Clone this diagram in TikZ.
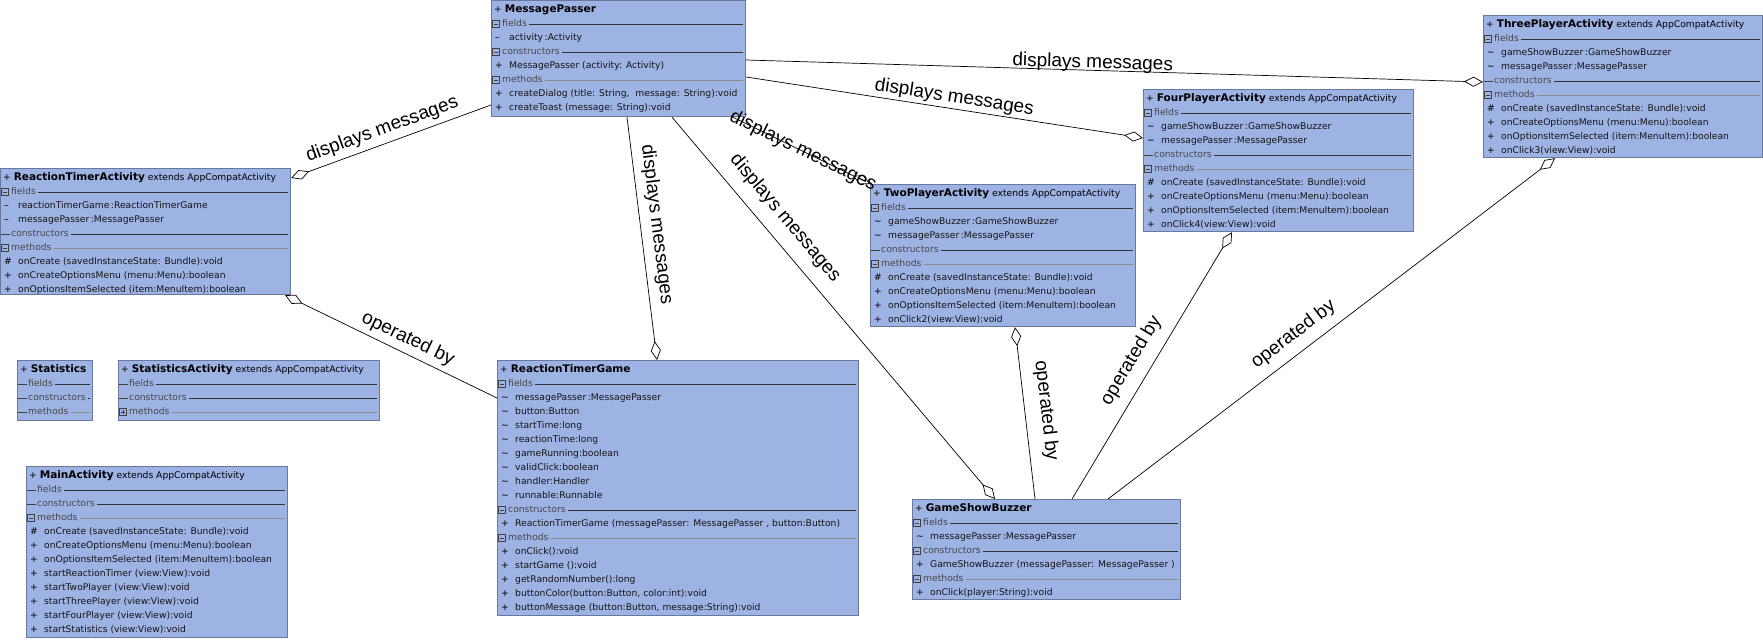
\documentclass[tikz,border=0pt]{standalone}
\usepackage{fontspec}
\setmainfont{DejaVu Sans}
\newfontfamily\etiq{Liberation Sans}
\usetikzlibrary{arrows.meta}
\definecolor{cajaazul}{RGB}{157,179,227}
\definecolor{bordeazul}{RGB}{105,120,158}

% filas de una clase: titulo, secciones y miembros
\newcommand\clase[3]{%
  \node[titulo] (#1-0) at ([shift={(3,10)}]#1.north west)
    {+ {\bfseries\fontsize{10.5}{12}\selectfont #2}#3};}
\newcommand\seccion[5][oscura]{%
  \node[#4] (#2-g#3) at ([shift={(1,10+14*#3)}]#2.north west) {};
  \node[secc] (#2-#3) at ([shift={(11,10+14*#3)}]#2.north west) {#5};
  \draw[#1] (#2-#3.east) -- (#2-#3.east -| #2.east);}
\newcommand\miembro[4]{%
  \node[fila] (#1-v#2) at ([shift={(4,10+14*#2)}]#1.north west) {#3};
  \node[texto] (#1-#2) at ([shift={(18,10+14*#2)}]#1.north west) {#4};}

\begin{document}
\begin{tikzpicture}[x=1pt, y=-1pt,
    caja/.style={draw=bordeazul, fill=cajaazul, line width=1.2pt,
      anchor=north west, inner sep=0pt},
    fila/.style={anchor=west, inner sep=0pt, text height=7pt, text depth=2pt,
      font=\fontsize{9.2}{11}\selectfont},
    titulo/.style={fila, text=black},
    secc/.style={fila, text=black!72},
    texto/.style={fila, text=black!92},
    menos/.style={draw=black!75, line width=.6pt, anchor=west, inner sep=0pt,
      minimum size=7pt, path picture={\draw[black!75, line width=.6pt]
        ([xshift=1.5pt]path picture bounding box.west) --
        ([xshift=-1.5pt]path picture bounding box.east);}},
    mas/.style={menos, path picture={\draw[black!75, line width=.6pt]
        ([xshift=1.5pt]path picture bounding box.west) --
        ([xshift=-1.5pt]path picture bounding box.east)
        ([yshift=-1.5pt]path picture bounding box.north) --
        ([yshift=1.5pt]path picture bounding box.south);}},
    guion/.style={anchor=west, inner sep=0pt, minimum width=9pt, minimum height=1pt,
      fill=black!75},
    oscura/.style={draw=black!80, line width=.8pt, shorten <=2pt, shorten >=3pt},
    clara/.style={draw=black!45, line width=.6pt, shorten <=2pt, shorten >=3pt},
    linea/.style={draw=black, line width=.7pt},
    agrega/.style={{Diamond[open,length=19pt,width=10pt]}-},
    etiqueta/.style={font=\etiq\fontsize{19}{22}\selectfont, inner sep=1pt, sloped}]
    \useasboundingbox (0,0) rectangle (1763,640);

    % MessagePasser
    \node[caja, minimum width=254, minimum height=116] (mp) at (491,0) {};
    \clase{mp}{MessagePasser}{}
    \seccion{mp}{1}{menos}{fields}
    \miembro{mp}{2}{–}{activity\,:Activity}
    \seccion{mp}{3}{menos}{constructors}
    \miembro{mp}{4}{+}{MessagePasser (activity: Activity)}
    \seccion[clara]{mp}{5}{menos}{methods}
    \miembro{mp}{6}{+}{createDialog (title: String,\ \ message: String):void}
    \miembro{mp}{7}{+}{createToast (message: String):void}

    % ReactionTimerActivity
    \node[caja, minimum width=290, minimum height=126] (rta) at (0,168) {};
    \clase{rta}{ReactionTimerActivity}{ extends AppCompatActivity}
    \seccion{rta}{1}{menos}{fields}
    \miembro{rta}{2}{–}{reactionTimerGame\,:ReactionTimerGame}
    \miembro{rta}{3}{–}{messagePasser\,:MessagePasser}
    \seccion{rta}{4}{guion}{constructors}
    \seccion[clara]{rta}{5}{menos}{methods}
    \miembro{rta}{6}{\#}{onCreate (savedInstanceState: Bundle):void}
    \miembro{rta}{7}{+}{onCreateOptionsMenu (menu:Menu):boolean}
    \miembro{rta}{8}{+}{onOptionsItemSelected (item:MenuItem):boolean}

    % Statistics, StatisticsActivity
    \node[caja, minimum width=75, minimum height=60] (st) at (17,360) {};
    \clase{st}{Statistics}{}
    \seccion{st}{1}{guion}{fields}
    \seccion{st}{2}{guion}{constructors}
    \seccion[clara]{st}{3}{guion}{methods}
    \node[caja, minimum width=261, minimum height=60] (sta) at (118,360) {};
    \clase{sta}{StatisticsActivity}{ extends AppCompatActivity}
    \seccion{sta}{1}{guion}{fields}
    \seccion{sta}{2}{guion}{constructors}
    \seccion[clara]{sta}{3}{mas}{methods}

    % MainActivity
    \node[caja, minimum width=261, minimum height=171] (main) at (26,466) {};
    \clase{main}{MainActivity}{ extends AppCompatActivity}
    \seccion{main}{1}{guion}{fields}
    \seccion{main}{2}{guion}{constructors}
    \seccion[clara]{main}{3}{menos}{methods}
    \miembro{main}{4}{\#}{onCreate (savedInstanceState: Bundle):void}
    \foreach \txt [count=\i from 5] in {onCreateOptionsMenu (menu:Menu):boolean,
        onOptionsItemSelected (item:MenuItem):boolean,
        startReactionTimer (view:View):void, startTwoPlayer (view:View):void,
        startThreePlayer (view:View):void, startFourPlayer (view:View):void,
        startStatistics (view:View):void}
      {\miembro{main}{\i}{+}{\txt}}

    % ReactionTimerGame
    \node[caja, minimum width=361, minimum height=255] (rtg) at (497,360) {};
    \clase{rtg}{ReactionTimerGame}{}
    \seccion{rtg}{1}{menos}{fields}
    \foreach \txt [count=\i from 2] in {messagePasser\,:MessagePasser,
        button:Button, startTime:long, reactionTime:long, gameRunning:boolean,
        validClick:boolean, handler:Handler, runnable:Runnable}
      {\miembro{rtg}{\i}{\textasciitilde}{\txt}}
    \seccion{rtg}{10}{menos}{constructors}
    \miembro{rtg}{11}{+}{ReactionTimerGame (messagePasser: MessagePasser , button:Button)}
    \seccion[clara]{rtg}{12}{menos}{methods}
    \foreach \txt [count=\i from 13] in {onClick():void, startGame ():void,
        getRandomNumber():long, {buttonColor(button:Button,\ color:int):void},
        {buttonMessage (button:Button,\ message:String):void}}
      {\miembro{rtg}{\i}{+}{\txt}}

    % actividades de dos, cuatro y tres jugadores
    \foreach \cls/\px/\py/\w/\nom/\num in {dos/870/184/265/TwoPlayerActivity/2,
        cuatro/1143/89/270/FourPlayerActivity/4,
        tres/1483/15/279/ThreePlayerActivity/3} {
      \node[caja, minimum width=\w, minimum height=142] (\cls) at (\px,\py) {};
      \clase{\cls}{\nom}{ extends AppCompatActivity}
      \seccion{\cls}{1}{menos}{fields}
      \miembro{\cls}{2}{\textasciitilde}{gameShowBuzzer\,:GameShowBuzzer}
      \miembro{\cls}{3}{\textasciitilde}{messagePasser\,:MessagePasser}
      \seccion{\cls}{4}{guion}{constructors}
      \seccion[clara]{\cls}{5}{menos}{methods}
      \miembro{\cls}{6}{\#}{onCreate (savedInstanceState: Bundle):void}
      \miembro{\cls}{7}{+}{onCreateOptionsMenu (menu:Menu):boolean}
      \miembro{\cls}{8}{+}{onOptionsItemSelected (item:MenuItem):boolean}
      \miembro{\cls}{9}{+}{onClick\num(view:View):void}
    }

    % GameShowBuzzer
    \node[caja, minimum width=268, minimum height=100] (gsb) at (912,499) {};
    \clase{gsb}{GameShowBuzzer}{}
    \seccion{gsb}{1}{menos}{fields}
    \miembro{gsb}{2}{\textasciitilde}{messagePasser\,:MessagePasser}
    \seccion{gsb}{3}{menos}{constructors}
    \miembro{gsb}{4}{+}{GameShowBuzzer (messagePasser: MessagePasser )}
    \seccion[clara]{gsb}{5}{menos}{methods}
    \miembro{gsb}{6}{+}{onClick(player:String):void}

    % agregaciones
    \draw[linea, agrega] ([yshift=-10pt]rta.north east) -- ([yshift=-105pt]mp.north west)
        node[etiqueta, pos=.48, above=4pt] {displays messages};
    \draw[linea, agrega] ([xshift=160pt]rtg.north west) -- ([xshift=136pt]mp.south west)
        node[etiqueta, pos=.55, above=6pt] {displays messages};
    \draw[linea, agrega] ([xshift=83pt]gsb.north west) -- ([xshift=181pt]mp.south west)
        node[etiqueta, pos=.70, above=11pt] {displays messages};
    \draw[linea, agrega] (dos.north west) -- ([xshift=242pt]mp.south west)
        node[etiqueta, pos=.49] {displays messages};
    \draw[linea, agrega] ([yshift=-49pt]cuatro.north west) -- ([yshift=-77pt]mp.north east)
        node[etiqueta, pos=.48, above=1pt] {displays messages};
    \draw[linea, agrega] ([yshift=-67pt]tres.north west) -- ([yshift=-60pt]mp.north east)
        node[etiqueta, pos=.53, above=-3pt] {displays messages};
    \draw[linea, agrega] ([xshift=-6pt]rta.south east) -- ([yshift=-38pt]rtg.north west)
        node[etiqueta, pos=.55, above=4pt] {operated by};
    \draw[linea, agrega] ([xshift=145pt]dos.south west) -- ([xshift=123pt]gsb.north west)
        node[etiqueta, pos=.5, above=11pt] {operated by};
    \draw[linea, agrega] ([xshift=89pt]cuatro.south west) -- ([xshift=160pt]gsb.north west)
        node[etiqueta, pos=.52, above=10pt] {operated by};
    \draw[linea, agrega] ([xshift=72pt]tres.south west) -- ([xshift=196pt]gsb.north west)
        node[etiqueta, pos=.56, above=8pt] {operated by};
\end{tikzpicture}
\end{document}
